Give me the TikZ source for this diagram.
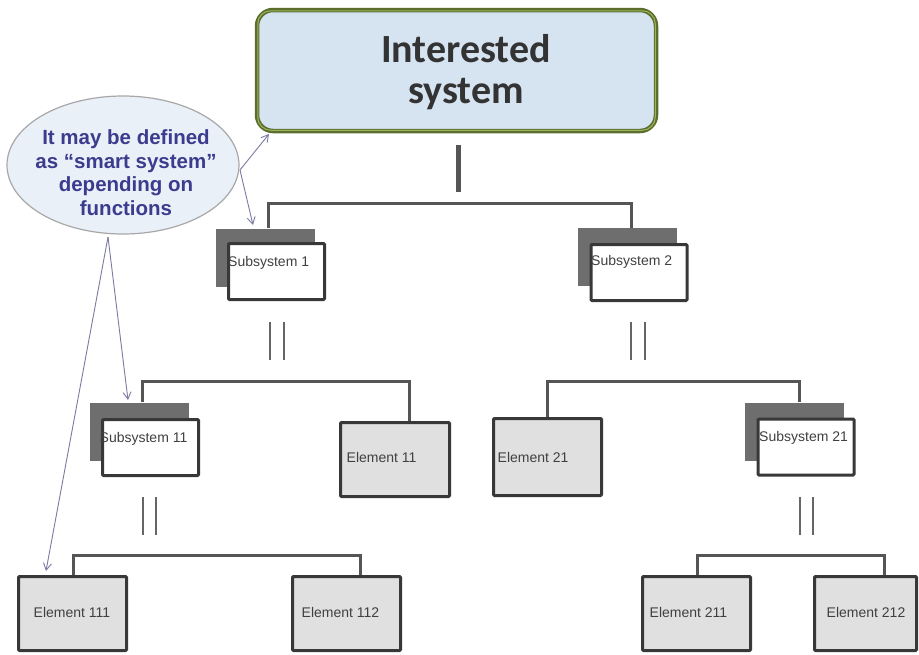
\documentclass[tikz,border=0pt]{standalone}
\usepackage{fontspec}
\setmainfont{Liberation Sans}
\newfontfamily\headfont{Carlito}
\usetikzlibrary{arrows.meta,shapes.geometric}

\definecolor{topfill}{HTML}{D6E3F1}
\definecolor{topedge}{HTML}{5B6E2C}
\definecolor{topinner}{HTML}{9DB45E}
\definecolor{toptext}{HTML}{333333}
\definecolor{notefill}{HTML}{EAF0F8}
\definecolor{noteedge}{HTML}{A8A8A8}
\definecolor{notetext}{HTML}{3C3C8E}
\definecolor{arrowcol}{HTML}{7A7AA2}
\definecolor{linecol}{HTML}{555555}
\definecolor{barcol}{HTML}{666666}
\definecolor{boxedge}{HTML}{383838}
\definecolor{shadowcol}{HTML}{6E6E6E}
\definecolor{elemfill}{HTML}{E0E0E0}
\definecolor{labelcol}{HTML}{404040}

\begin{document}
\begin{tikzpicture}[x=1pt,y=-1pt,
  conn/.style={draw=linecol, line width=3pt},
  twinbar/.style={draw=barcol, line width=2.6pt},
  pointer/.style={draw=arrowcol, line width=0.9pt, -{Straight Barb[length=7pt,width=8pt]}},
  subbox/.style={draw=boxedge, line width=3pt, fill=white, minimum width=96pt, minimum height=56pt, inner sep=0pt, rounded corners=1pt},
  subshadow/.style={fill=shadowcol, minimum width=99pt, minimum height=58pt, inner sep=0pt},
  elembox/.style={draw=boxedge, line width=3pt, fill=elemfill, minimum width=108pt, minimum height=74pt, inner sep=0pt, rounded corners=1pt},
  lbl/.style={font=\fontsize{14}{16}\selectfont, text=labelcol, inner sep=0pt, anchor=west},
]
\useasboundingbox (0,0) rectangle (919,654);
\fill[white] (0,0) rectangle (919,654);

% ---- top level system ----
\node[draw=topedge, line width=4.5pt, fill=topfill, rounded corners=16pt,
      minimum width=399pt, minimum height=121pt, inner sep=0pt] (top) at (456.5,70.5) {};
\draw[topinner, line width=1pt, rounded corners=13pt]
  ([xshift=3pt,yshift=-3pt]top.north west) rectangle ([xshift=-3pt,yshift=3pt]top.south east);
\node[font=\headfont\bfseries\fontsize{40}{41}\selectfont, text=toptext, align=center, inner sep=0pt]
  (toptitle) at (466,72.5) {Interested\\system};

% ---- subsystems, level 1 ----
\node[subshadow] (s1sh) at (265.5,257.5) {};
\node[subbox] (s1) at (276.5,271.5) {};
\node[lbl] (s1t) at ([xshift=1pt,yshift=-21pt]s1.north west) {Subsystem 1};

\node[subshadow] (s2sh) at (627.5,257) {};
\node[subbox] (s2) at (639,272.5) {};
\node[lbl] (s2t) at ([xshift=1.5pt,yshift=-19pt]s2.north west) {Subsystem 2};

% ---- level 2 ----
\node[subshadow] (s11sh) at (139.5,431.5) {};
\node[subbox] (s11) at (150.5,447.5) {};
\node[lbl] (s11t) at ([xshift=-1.5pt,yshift=-21pt]s11.north west) {Subsystem 11};

\node[elembox, minimum width=109pt] (e11) at (395,459.5) {};
\node[lbl] (e11t) at ([xshift=7.5pt,yshift=2pt]e11.west) {Element 11};

\node[elembox, minimum height=77pt] (e21) at (547.5,457) {};
\node[lbl] (e21t) at ([xshift=5.5pt]e21.west) {Element 21};

\node[subshadow] (s21sh) at (794.5,431.5) {};
\node[subbox] (s21) at (806,447) {};
\node[lbl] (s21t) at ([xshift=2.5pt,yshift=-20.5pt]s21.north west) {Subsystem 21};

% ---- level 3 ----
\node[elembox] (e111) at (72.5,613.5) {};
\node[lbl] (e111t) at ([xshift=16.5pt,yshift=1.5pt]e111.west) {Element 111};
\node[elembox] (e112) at (346.5,613.5) {};
\node[lbl] (e112t) at ([xshift=10.5pt,yshift=1.5pt]e112.west) {Element 112};
\node[elembox] (e211) at (696.5,613.5) {};
\node[lbl] (e211t) at ([xshift=8.5pt,yshift=1.5pt]e211.west) {Element 211};
\node[elembox, minimum width=102pt] (e212) at (865.5,613.5) {};
\node[lbl] (e212t) at ([xshift=13.5pt,yshift=1.5pt]e212.west) {Element 212};

% ---- tree connectors ----
\coordinate (barA) at (458,145);
\coordinate (barB) at (458,192);
\draw[draw=linecol, line width=5pt] (barA) -- (barB);

\coordinate (h1l) at (268,203);
\coordinate (h1r) at (631,203);
\draw[conn] (h1l |- s1sh.north) -- (h1l) -- (h1r) -- (h1r |- s2sh.north);

\coordinate (h2l) at (142,381);
\coordinate (h2r) at (409,381);
\draw[conn] (h2l |- s11sh.north) -- (h2l) -- (h2r) -- (h2r |- e11.north);

\coordinate (h3l) at (547,381);
\coordinate (h3r) at (799,381);
\draw[conn] (h3l |- e21.north) -- (h3l) -- (h3r) -- (h3r |- s21sh.north);

\coordinate (h4l) at (73,555);
\coordinate (h4r) at (360,555);
\draw[conn] (h4l |- e111.north) -- (h4l) -- (h4r) -- (h4r |- e112.north);

\coordinate (h5l) at (697,555);
\coordinate (h5r) at (884,555);
\draw[conn] (h5l |- e211.north) -- (h5l) -- (h5r) -- (h5r |- e212.north);

% double strokes below each subsystem
\draw[twinbar] (270,322) -- (270,360) (284,322) -- (284,360);
\draw[twinbar] (631,322) -- (631,360) (645,322) -- (645,360);
\draw[twinbar] (143,497) -- (143,535) (156,497) -- (156,535);
\draw[twinbar] (800,497) -- (800,535) (813,497) -- (813,535);

% ---- callout ----
\node[ellipse, draw=noteedge, line width=1.2pt, fill=notefill,
      minimum width=232pt, minimum height=138pt, inner sep=0pt] (note) at (123,165) {};
\node[font=\bfseries\fontsize{20.5}{23.5}\selectfont, text=notetext, align=center, inner sep=0pt]
  (notetxt) at (126,172.5) {It may be defined\\as “smart system”\\depending on\\functions};

\coordinate (noteR) at (240,170);
\coordinate (noteB) at (108,237);
\coordinate (tipTop) at (269,134);
\coordinate (tipS1) at (253,225);
\coordinate (tipS11) at (128,400);
\coordinate (tipE111) at (46,571);
\draw[pointer] (noteR) -- (tipTop);
\draw[pointer] (noteR) -- (tipS1);
\draw[pointer] (noteB) -- (tipS11);
\draw[pointer] (noteB) -- (tipE111);
\end{tikzpicture}
\end{document}
